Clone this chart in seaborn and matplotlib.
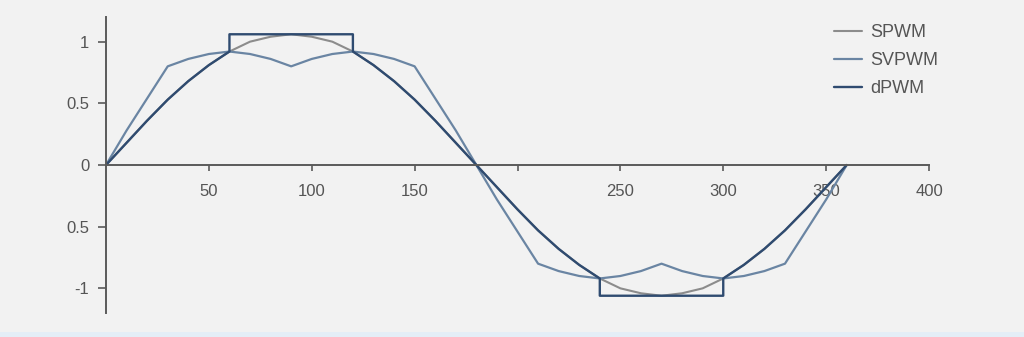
import matplotlib
matplotlib.use("Agg")
import matplotlib.pyplot as plt
from matplotlib.patches import Rectangle
import seaborn as sns

# ---- data ----
angle = [0, 10, 20, 30, 40, 50, 60, 70, 80, 90, 100, 110, 120, 130, 140, 150, 160, 170, 180,
         190, 200, 210, 220, 230, 240, 250, 260, 270, 280, 290, 300, 310, 320, 330, 340, 350, 360]

spwm = [0, 0.18, 0.36, 0.53, 0.68, 0.81, 0.92, 1.00, 1.04, 1.06, 1.04, 1.00, 0.92, 0.81, 0.68, 0.53, 0.36, 0.18, 0,
        -0.18, -0.36, -0.53, -0.68, -0.81, -0.92, -1.00, -1.04, -1.06, -1.04, -1.00, -0.92, -0.81, -0.68, -0.53, -0.36, -0.18, 0]

svpwm = [0, 0.28, 0.54, 0.80, 0.86, 0.90, 0.92, 0.90, 0.86, 0.80, 0.86, 0.90, 0.92, 0.90, 0.86, 0.80, 0.54, 0.28, 0,
         -0.28, -0.54, -0.80, -0.86, -0.90, -0.92, -0.90, -0.86, -0.80, -0.86, -0.90, -0.92, -0.90, -0.86, -0.80, -0.54, -0.28, 0]

dpwm_angle = [0, 10, 20, 30, 40, 50, 60, 60, 120, 120, 130, 140, 150, 160, 170, 180,
              190, 200, 210, 220, 230, 240, 240, 300, 300, 310, 320, 330, 340, 350, 360]
dpwm = [0, 0.18, 0.36, 0.53, 0.68, 0.81, 0.92, 1.06, 1.06, 0.92, 0.81, 0.68, 0.53, 0.36, 0.18, 0,
        -0.18, -0.36, -0.53, -0.68, -0.81, -0.92, -1.06, -1.06, -0.92, -0.81, -0.68, -0.53, -0.36, -0.18, 0]

x_ticks = [50, 100, 150, 200, 250, 300, 350, 400]
x_tick_labels = ["50", "100", "150", "", "250", "300", "350", "400"]
y_ticks = [1, 0.5, 0, -0.5, -1]
y_tick_labels = ["1", "0.5", "0", "0.5", "-1"]

# ---- styling ----
sns.set_theme(style="white")
plt.rcParams["font.family"] = ["Liberation Sans", "DejaVu Sans"]

bg = "#f2f2f2"
axis_col = "#5a5a5a"
text_col = "#555555"
c_spwm = "#8c8c8c"
c_svpwm = "#6a85a3"
c_dpwm = "#2f4b70"

fig = plt.figure(figsize=(10.24, 3.37), dpi=100, facecolor=bg)
ax = fig.add_axes([106 / 1024, 1 - 313 / 337, (929 - 106) / 1024, 296 / 337])
ax.set_facecolor(bg)

sns.lineplot(x=angle, y=spwm, estimator=None, sort=False, color=c_spwm, lw=1.5, label="SPWM", ax=ax)
sns.lineplot(x=angle, y=svpwm, estimator=None, sort=False, color=c_svpwm, lw=1.6, label="SVPWM", ax=ax)
sns.lineplot(x=dpwm_angle, y=dpwm, estimator=None, sort=False, color=c_dpwm, lw=1.7, label="dPWM", ax=ax)

ax.set_xlim(0, 400)
ax.set_ylim(-1.2, 1.2)

for s in ["top", "right"]:
    ax.spines[s].set_visible(False)
ax.spines["left"].set_position(("data", 0))
ax.spines["bottom"].set_position(("data", 0))
for s in ["left", "bottom"]:
    ax.spines[s].set_color(axis_col)
    ax.spines[s].set_linewidth(1.4)

ax.set_xticks(x_ticks)
ax.set_xticklabels(x_tick_labels)
ax.set_yticks(y_ticks)
ax.set_yticklabels(y_tick_labels)
ax.tick_params(axis="x", direction="out", length=4, width=1.2, color=axis_col,
               labelcolor=text_col, labelsize=12, pad=10, bottom=True)
ax.tick_params(axis="y", direction="out", length=6, width=1.2, color=axis_col,
               labelcolor=text_col, labelsize=12, pad=6, left=True)
ax.grid(False)

leg = ax.legend(loc="upper left", bbox_to_anchor=(834 / 1024, 1 - 24 / 337),
                bbox_transform=fig.transFigure, frameon=False, fontsize=13,
                borderpad=0, borderaxespad=0, handlelength=1.55, handletextpad=0.45,
                labelspacing=0.62)
for t in leg.get_texts():
    t.set_color(text_col)

fig.add_artist(Rectangle((0, 0), 1, 5 / 337, transform=fig.transFigure,
                         facecolor="#e4eef7", edgecolor="none"))

fig.savefig("out.png", dpi=100, facecolor=bg)
